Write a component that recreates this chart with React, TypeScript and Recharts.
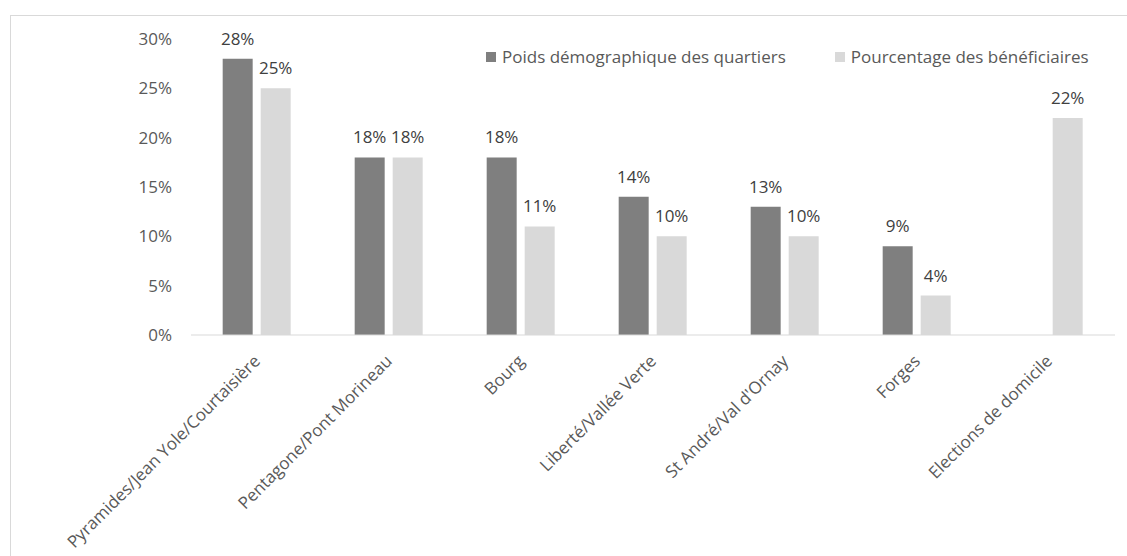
import { Bar, BarChart, LabelList, XAxis, YAxis } from "recharts";

const categories = [
  "Pyramides/Jean Yole/Courtaisière",
  "Pentagone/Pont Morineau",
  "Bourg",
  "Liberté/Vallée Verte",
  "St André/Val d'Ornay",
  "Forges",
  "Elections de domicile",
];
const poids = [28, 18, 18, 14, 13, 9, null];
const beneficiaires = [25, 18, 11, 10, 10, 4, 22];
const yTicks = [0, 5, 10, 15, 20, 25, 30];

const series = [
  { key: "poids", name: "Poids démographique des quartiers", color: "#7f7f7f" },
  { key: "beneficiaires", name: "Pourcentage des bénéficiaires", color: "#d9d9d9" },
];

const data = categories.map((name, i) => ({
  name,
  poids: poids[i],
  beneficiaires: beneficiaires[i],
}));

const FONT = "'Open Sans', sans-serif";
const TEXT = "#595959";
const FS = 17;

function CategoryTick(props: any) {
  const { x, y, payload } = props;
  return (
    <g transform={`translate(${x},${y + 15})`}>
      <text
        transform="rotate(-45)"
        textAnchor="end"
        dy="0.35em"
        fill={TEXT}
        fontSize={FS}
        fontFamily={FONT}
      >
        {payload.value}
      </text>
    </g>
  );
}

export default function App() {
  return (
    <div
      style={{
        position: "absolute",
        left: 0,
        top: 0,
        width: 1127,
        height: 556,
        background: "#fff",
        fontFamily: FONT,
        overflow: "hidden",
      }}
    >
      <div
        style={{
          position: "absolute",
          left: 10,
          top: 15,
          width: 1127,
          height: 556,
          borderLeft: "1px solid #d9d9d9",
          borderTop: "1px solid #d9d9d9",
        }}
      />
      <div style={{ position: "absolute", left: 0, top: 0 }}>
        <BarChart
          width={1127}
          height={556}
          data={data}
          margin={{ top: 39, right: 12, left: 0, bottom: 0 }}
          barCategoryGap="24%"
          barGap={8}
        >
          <XAxis
            dataKey="name"
            interval={0}
            tickLine={false}
            axisLine={{ stroke: "#d9d9d9" }}
            tick={<CategoryTick />}
            height={221}
          />
          <YAxis
            width={191}
            domain={[0, 30]}
            ticks={yTicks}
            tickFormatter={(v) => `${v}%`}
            axisLine={false}
            tickLine={false}
            tickSize={0}
            tickMargin={19}
            tick={{ fill: TEXT, fontSize: FS, fontFamily: FONT }}
          />
          {series.map((s) => (
            <Bar
              key={s.key}
              dataKey={s.key}
              name={s.name}
              fill={s.color}
              isAnimationActive={false}
            >
              <LabelList
                dataKey={s.key}
                position="top"
                offset={14}
                formatter={(v: any) => (v == null ? "" : `${v}%`)}
                fill="#404040"
                fontSize={FS}
                fontFamily={FONT}
              />
            </Bar>
          ))}
        </BarChart>
      </div>
      <div
        style={{
          position: "absolute",
          left: 486,
          top: 45,
          display: "flex",
          gap: 49,
          fontSize: FS,
          color: TEXT,
          lineHeight: "24px",
        }}
      >
        {series.map((s) => (
          <div key={s.key} style={{ display: "flex", alignItems: "center", gap: 6 }}>
            <span style={{ width: 10, height: 10, background: s.color, display: "inline-block" }} />
            <span>{s.name}</span>
          </div>
        ))}
      </div>
    </div>
  );
}
